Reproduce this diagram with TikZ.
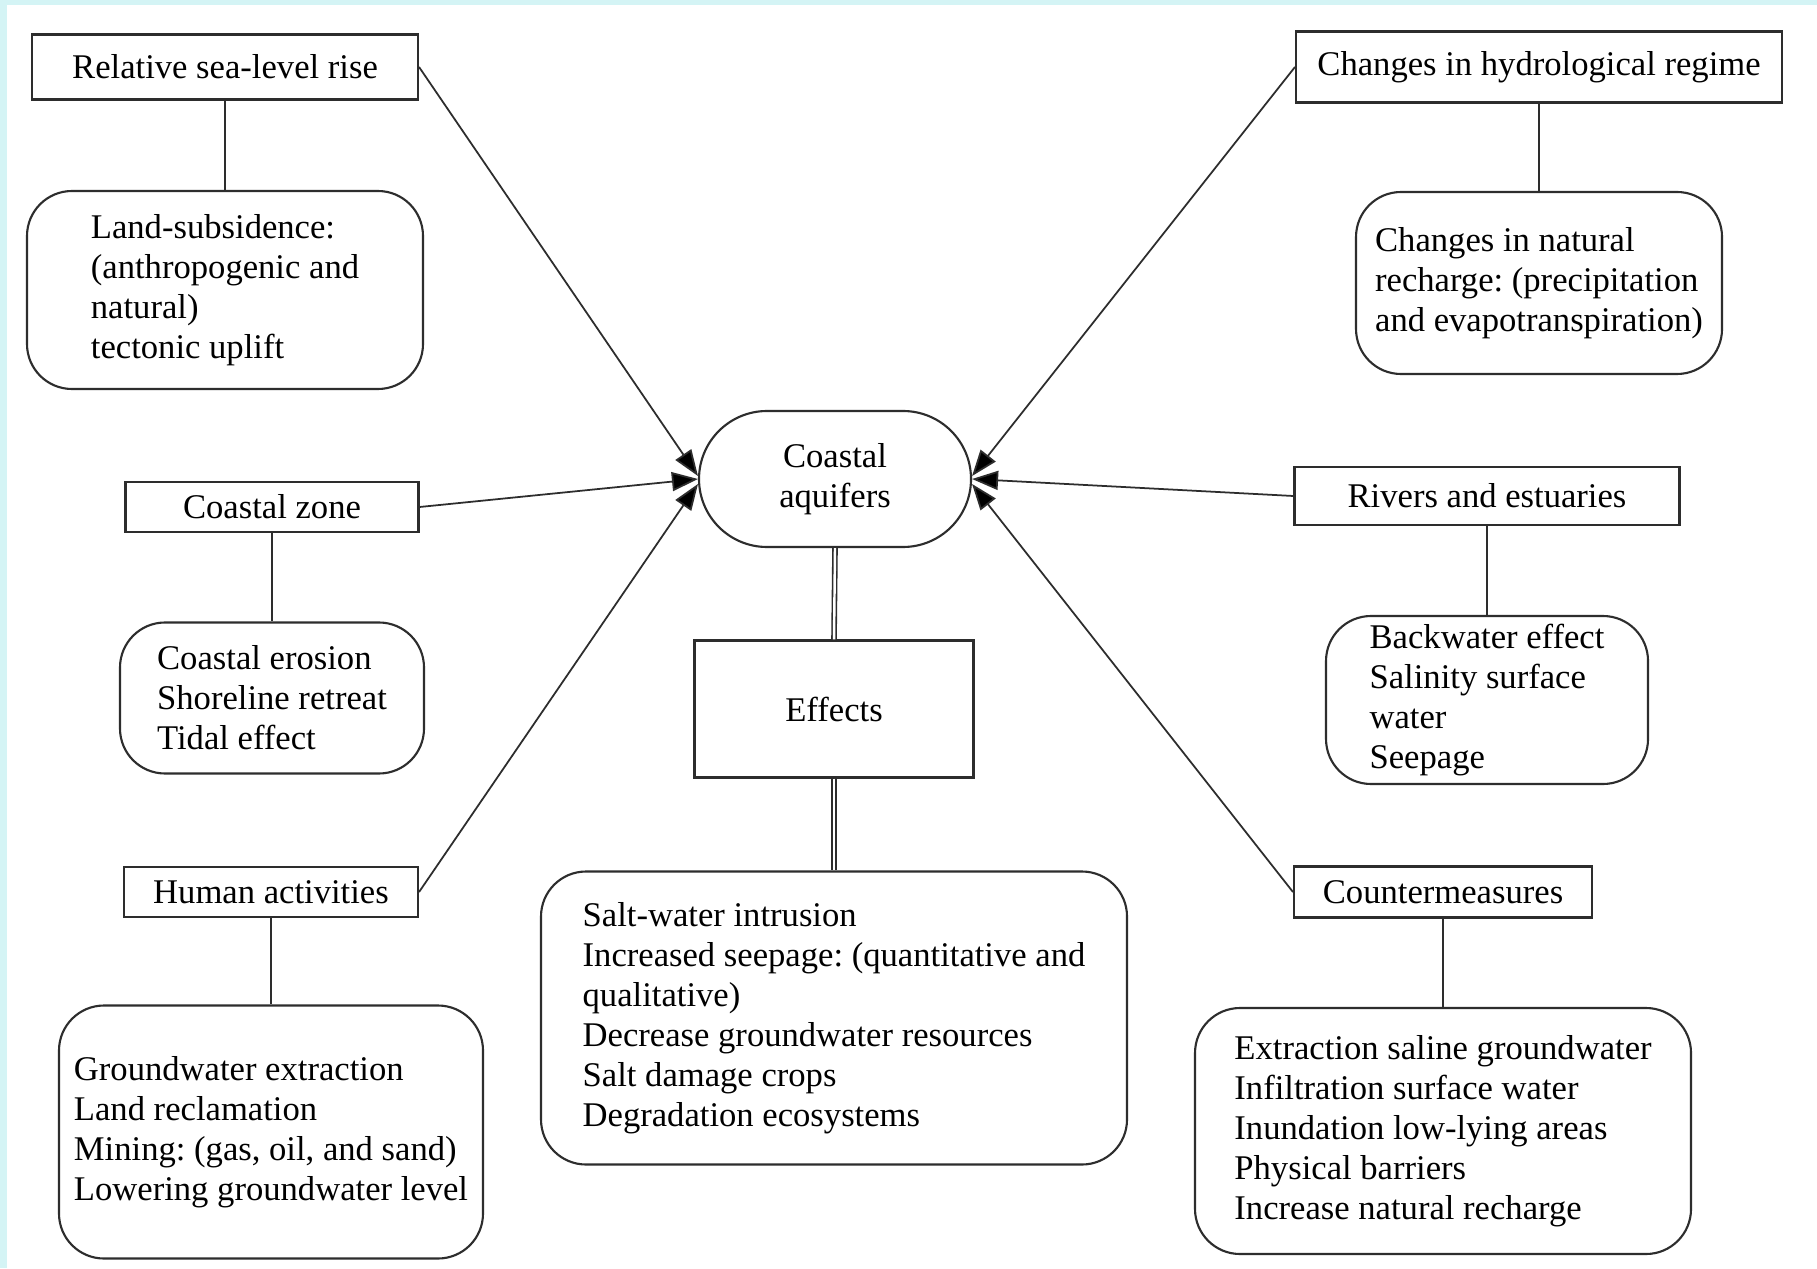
\documentclass[tikz,border=0pt]{standalone}
\usepackage{fontspec}
\setmainfont{Liberation Serif}
\usetikzlibrary{arrows.meta, shapes.misc}
\definecolor{framecyan}{RGB}{212,244,245}
\definecolor{inkgray}{RGB}{45,45,45}
\frenchspacing

\tikzset{
  headbox/.style={draw=inkgray, line width=0.6pt, rectangle, inner sep=0pt, align=center},
  listbox/.style={draw=inkgray, line width=0.6pt, rounded corners=0.45cm, inner sep=0pt, align=left},
  hub/.style={draw=inkgray, line width=0.6pt, rounded rectangle, inner sep=0pt, align=center},
  feed/.style={->, line width=0.5pt, draw=inkgray},
  link/.style={line width=0.55pt, draw=inkgray},
  twin/.style={double, double distance=0.7pt, line width=0.45pt, draw=inkgray}
}

\begin{document}
\begin{tikzpicture}[>={Triangle[length=7.4pt, width=5.4pt, fill=black]}, font=\fontsize{9.85}{11.4}\selectfont]
  % frame
  \fill[framecyan] (0,0) rectangle (18.17,-12.68);
  \fill[white] (0.07,-0.05) rectangle (18.17,-12.68);
  \useasboundingbox (0,0) rectangle (18.17,-12.68);

  % left column
  \node[headbox, minimum width=3.86cm, minimum height=0.65cm] (slr) at (2.25,-0.67) {Relative sea-level rise};
  \node[listbox, minimum width=3.96cm, minimum height=1.98cm] (subs) at (2.25,-2.90) {Land-subsidence:\\(anthropogenic and\\natural)\\tectonic uplift};
  \node[headbox, minimum width=2.93cm, minimum height=0.50cm] (czone) at (2.72,-5.07) {Coastal zone};
  \node[listbox, minimum width=3.04cm, minimum height=1.51cm] (eros) at (2.72,-6.98) {Coastal erosion\\Shoreline retreat\\Tidal effect};
  \node[headbox, minimum width=2.94cm, minimum height=0.50cm] (human) at (2.71,-8.92) {Human activities};
  \node[listbox, minimum width=4.24cm, minimum height=2.53cm] (extr) at (2.71,-11.32) {Groundwater extraction\\Land reclamation\\Mining: (gas, oil, and sand)\\Lowering groundwater level};

  % centre column
  \node[hub, minimum width=2.72cm, minimum height=1.36cm] (ca) at (8.35,-4.79) {Coastal\\aquifers};
  \node[headbox, minimum width=2.79cm, minimum height=1.37cm] (eff) at (8.34,-7.09) {Effects};
  \node[listbox, minimum width=5.86cm, minimum height=2.93cm] (efflist) at (8.34,-10.18) {Salt-water intrusion\\Increased seepage: (quantitative and\\qualitative)\\Decrease groundwater resources\\Salt damage crops\\Degradation ecosystems};

  % right column
  \node[headbox, minimum width=4.86cm, minimum height=0.71cm] (hydro) at (15.39,-0.67) {Changes in hydrological regime};
  \node[listbox, minimum width=3.66cm, minimum height=1.82cm] (rech) at (15.39,-2.83) {Changes in natural\\recharge: (precipitation\\and evapotranspiration)};
  \node[headbox, minimum width=3.85cm, minimum height=0.58cm] (river) at (14.87,-4.96) {Rivers and estuaries};
  \node[listbox, minimum width=3.22cm, minimum height=1.68cm] (backw) at (14.87,-7.00) {Backwater effect\\Salinity surface\\water\\Seepage};
  \node[headbox, minimum width=2.98cm, minimum height=0.51cm] (counter) at (14.43,-8.92) {Countermeasures};
  \node[listbox, minimum width=4.96cm, minimum height=2.46cm] (cmlist) at (14.43,-11.31) {Extraction saline groundwater\\Infiltration surface water\\Inundation low-lying areas\\Physical barriers\\Increase natural recharge};

  % heads to their lists
  \draw[link] (slr.south) -- (subs.north);
  \draw[link] (czone.south) -- (eros.north);
  \draw[link] (human.south) -- (extr.north);
  \draw[link] (hydro.south) -- (rech.north);
  \draw[link] (river.south) -- (backw.north);
  \draw[link] (counter.south) -- (cmlist.north);

  % drivers into the aquifers
  \draw[feed] (slr.east) -- ([yshift=0.03cm]ca.west);
  \draw[feed] (czone.east) -- (ca.west);
  \draw[feed] (human.east) -- ([yshift=-0.05cm]ca.west);
  \draw[feed] (hydro.west) -- ([yshift=0.03cm]ca.east);
  \draw[feed] (river.west) -- (ca.east);
  \draw[feed] (counter.west) -- ([yshift=-0.05cm]ca.east);

  % effects
  \draw[twin] (ca.south) -- (eff.north);
  \draw[twin] (eff.south) -- (efflist.north);
\end{tikzpicture}
\end{document}
